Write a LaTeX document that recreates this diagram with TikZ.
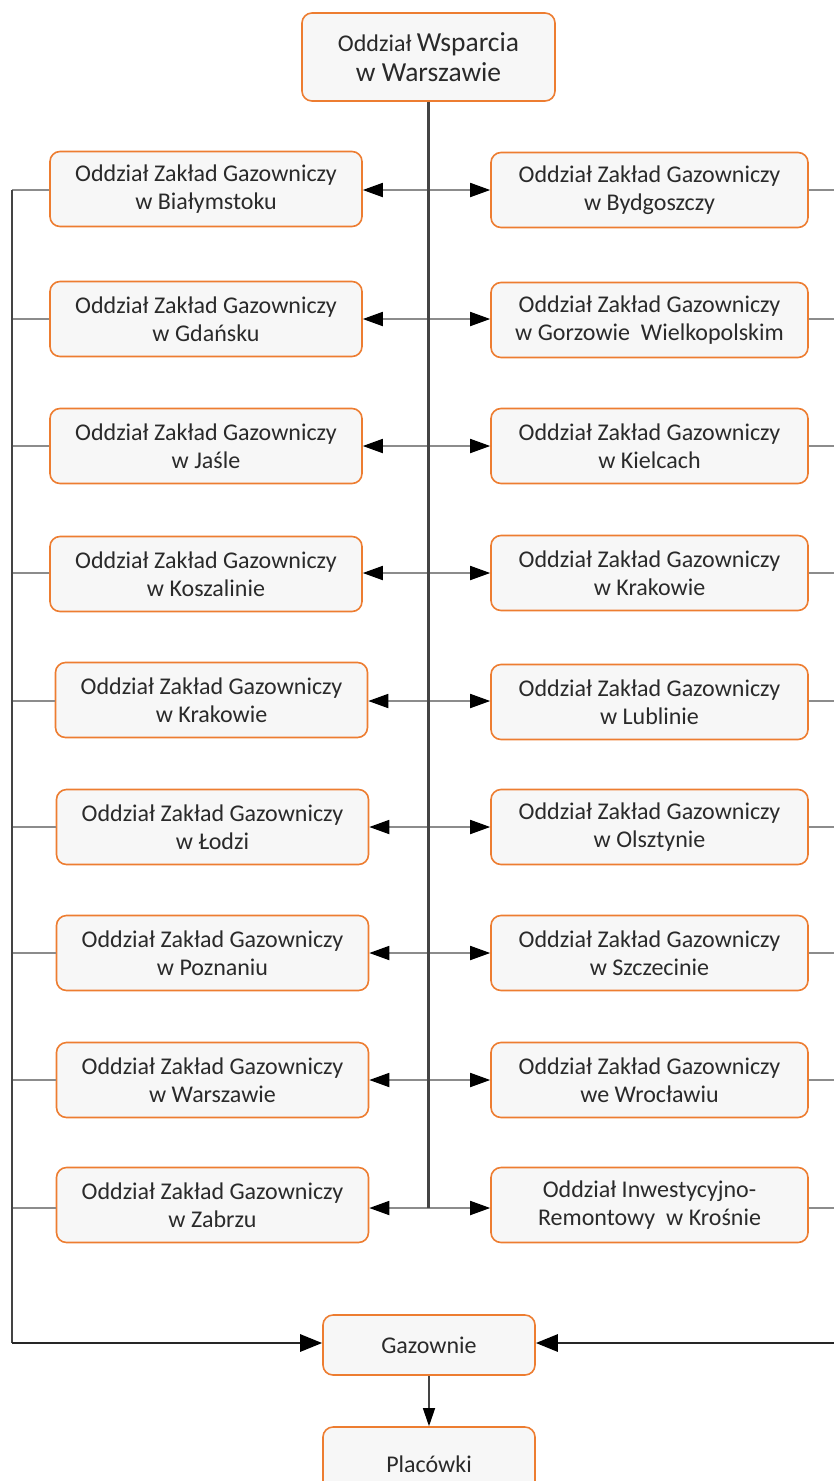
\documentclass[tikz,border=0pt]{standalone}
\usepackage{fontspec}
\setmainfont{Carlito}
\usetikzlibrary{arrows.meta}
\definecolor{boxorange}{HTML}{ED7D31}
\definecolor{boxfill}{HTML}{F7F7F7}
\definecolor{txt}{HTML}{2A2A2A}
\definecolor{lgray}{HTML}{8C8C8C}
\definecolor{dgray}{HTML}{444444}
\tikzset{
  x=1pt, y=-1pt,
  unit/.style={draw=boxorange, line width=1.6pt, fill=boxfill, rounded corners=10pt,
    text=txt, align=center, inner sep=0pt,
    font=\fontsize{24}{28}\selectfont},
  lbox/.style={unit, minimum width=312pt, minimum height=75pt},
  rbox/.style={unit, minimum width=317pt, minimum height=75pt},
  rowarrow/.style={draw=lgray, line width=1.8pt, -{Triangle[length=20pt,width=14pt,color=black]}},
  sideline/.style={draw=lgray, line width=1.8pt},
  trunk/.style={draw=dgray, line width=2.6pt},
  bigarrow/.style={draw=black!85, line width=2.8pt, -{Triangle[length=22pt,width=17pt,color=black]}},
}
\begin{document}
\begin{tikzpicture}
\useasboundingbox (0,0) rectangle (833,1481);
% top
\node[unit, minimum width=253pt, minimum height=88pt] (top) at (428.5,57)
  {{\fontsize{24}{28}\selectfont Oddział} {\fontsize{27.5}{31}\selectfont Wsparcia}\\[2pt]{\fontsize{27.5}{31}\selectfont w Warszawie}};
% left column
\node[lbox] (l1) at (206,189) {Oddział Zakład Gazowniczy\\w Białymstoku};
\node[lbox] (l2) at (206,319) {Oddział Zakład Gazowniczy\\w Gdańsku};
\node[lbox] (l3) at (206,446) {Oddział Zakład Gazowniczy\\w Jaśle};
\node[lbox] (l4) at (206,574) {Oddział Zakład Gazowniczy\\w Koszalinie};
\node[lbox] (l5) at (211.5,700) {Oddział Zakład Gazowniczy\\w Krakowie};
\node[lbox] (l6) at (212.5,827) {Oddział Zakład Gazowniczy\\w Łodzi};
\node[lbox] (l7) at (212.5,953) {Oddział Zakład Gazowniczy\\w Poznaniu};
\node[lbox] (l8) at (212.5,1080) {Oddział Zakład Gazowniczy\\w Warszawie};
\node[lbox] (l9) at (212.5,1205) {Oddział Zakład Gazowniczy\\w Zabrzu};
% right column
\node[rbox] (r1) at (649.5,190) {Oddział Zakład Gazowniczy\\w Bydgoszczy};
\node[rbox] (r2) at (649.5,320) {Oddział Zakład Gazowniczy\\w Gorzowie\ \ Wielkopolskim};
\node[rbox] (r3) at (649.5,446) {Oddział Zakład Gazowniczy\\w Kielcach};
\node[rbox] (r4) at (649.5,573) {Oddział Zakład Gazowniczy\\w Krakowie};
\node[rbox] (r5) at (649.5,702) {Oddział Zakład Gazowniczy\\w Lublinie};
\node[rbox] (r6) at (649.5,827) {Oddział Zakład Gazowniczy\\w Olsztynie};
\node[rbox] (r7) at (649.5,953) {Oddział Zakład Gazowniczy\\w Szczecinie};
\node[rbox] (r8) at (649.5,1080) {Oddział Zakład Gazowniczy\\we Wrocławiu};
\node[rbox] (r9) at (649.5,1205) {Oddział Inwestycyjno-\\Remontowy\ \ w Krośnie};
% bottom
\node[unit, minimum width=212pt, minimum height=60pt] (gaz) at (429,1345) {Gazownie};
\node[unit, minimum width=212pt, minimum height=74pt] (plac) at (429,1464) {Placówki};
% coordinates
\coordinate (tb) at (428.5,1208);
\coordinate (lt) at (12,190);
\coordinate (lb) at (12,1343);
\coordinate (rb) at (840,1343);
% row arrows
\foreach \y/\i in {190/1,319/2,446/3,573/4,701/5,827/6,953/7,1080/8,1208/9}{
  \coordinate (c\i) at (428.5,\y);
  \draw[rowarrow] (c\i) -- (l\i.east |- c\i);
  \draw[rowarrow] (c\i) -- (r\i.west |- c\i);
  \draw[sideline] (l\i.west |- c\i) -- (12,\y);
  \draw[sideline] (r\i.east |- c\i) -- (840,\y);
}
% trunk
\draw[trunk] (top.south) -- (tb);
% left side line
\draw[sideline, draw=dgray] (lt) -- (lb);
\draw[bigarrow] (lb) -- (gaz.west |- lb);
\draw[bigarrow] (rb) -- (gaz.east |- rb);
\draw[draw=dgray, line width=1.3pt, -{Triangle[length=18pt,width=12pt,color=black]}] (gaz.south) -- (plac.north);
\end{tikzpicture}
\end{document}
